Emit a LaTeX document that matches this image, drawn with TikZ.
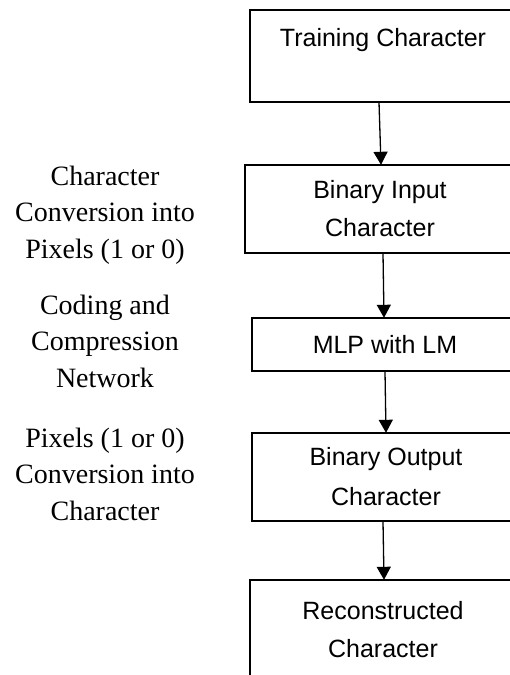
\documentclass[tikz,border=0pt]{standalone}
\usepackage{fontspec}
\setmainfont{Liberation Serif}
\newfontfamily\boxfont{Liberation Sans}
\usetikzlibrary{arrows.meta}
\tikzset{
  box/.style={draw=none, rectangle, inner sep=0pt, align=center,
    font=\boxfont\fontsize{25}{38}\selectfont},
  edge3/.style={line width=1.6pt, line join=miter},
  side/.style={align=center, inner sep=0pt, font=\fontsize{28}{36.5}\selectfont},
  arr/.style={line width=1.3pt, -{Triangle[length=13pt,width=14pt]}}
}
\begin{document}
\begin{tikzpicture}[x=1pt,y=1pt]
\useasboundingbox (0,0) rectangle (510,-675);
\clip (0,0) rectangle (510,-675);
% boxes (right edges run off the page)
\node[box, minimum width=280pt, minimum height=92pt] (b1) at (390,-56) {\hspace*{-14pt}Training Character\\ \mbox{}};
\node[box, minimum width=285pt, minimum height=88pt] (b2) at (387.5,-209) {\hspace*{-15pt}Binary Input\\\hspace*{-15pt}Character};
\node[box, minimum width=278pt, minimum height=53pt] (b3) at (391,-344.5) {\hspace*{-12pt}MLP with LM};
\node[box, minimum width=278pt, minimum height=88pt] (b4) at (391,-477) {\hspace*{-10pt}Binary Output\\[2pt]\hspace*{-10pt}Character};
\node[box, minimum width=280pt, minimum height=100pt] (b5) at (390,-630) {\hspace*{-14pt}Reconstructed\\\hspace*{-14pt}Character};
% box outlines (open on the right, where they leave the page)
\draw[edge3] (b1.north east) -- (b1.north west) -- (b1.south west) -- (b1.south east);
\draw[edge3] (b2.north east) -- (b2.north west) -- (b2.south west) -- (b2.south east);
\draw[edge3] (b3.north east) -- (b3.north west) -- (b3.south west) -- (b3.south east);
\draw[edge3] (b4.north east) -- (b4.north west) -- (b4.south west) -- (b4.south east);
\draw[edge3] (b5.north east) -- (b5.north west) -- (b5.south west);
% arrows
\draw[arr] ([xshift=-11pt]b1.south) -- ([xshift=-6.5pt]b2.north);
\draw[arr] ([xshift=-4.5pt]b2.south) -- ([xshift=-7pt]b3.north);
\draw[arr] ([xshift=-6pt]b3.south) -- ([xshift=-5pt]b4.north);
\draw[arr] ([xshift=-8pt]b4.south) -- ([xshift=-6pt]b5.north);
% side texts (base anchor = last line's baseline)
\node[side, anchor=base] (s1) at (105,-258) {Character\\Conversion into\\Pixels (1 or 0)};
\node[side, anchor=base] (s2) at (105,-387) {Coding and\\Compression\\Network};
\node[side, anchor=base] (s3) at (105,-520) {Pixels (1 or 0)\\Conversion into\\Character};
\end{tikzpicture}
\end{document}
